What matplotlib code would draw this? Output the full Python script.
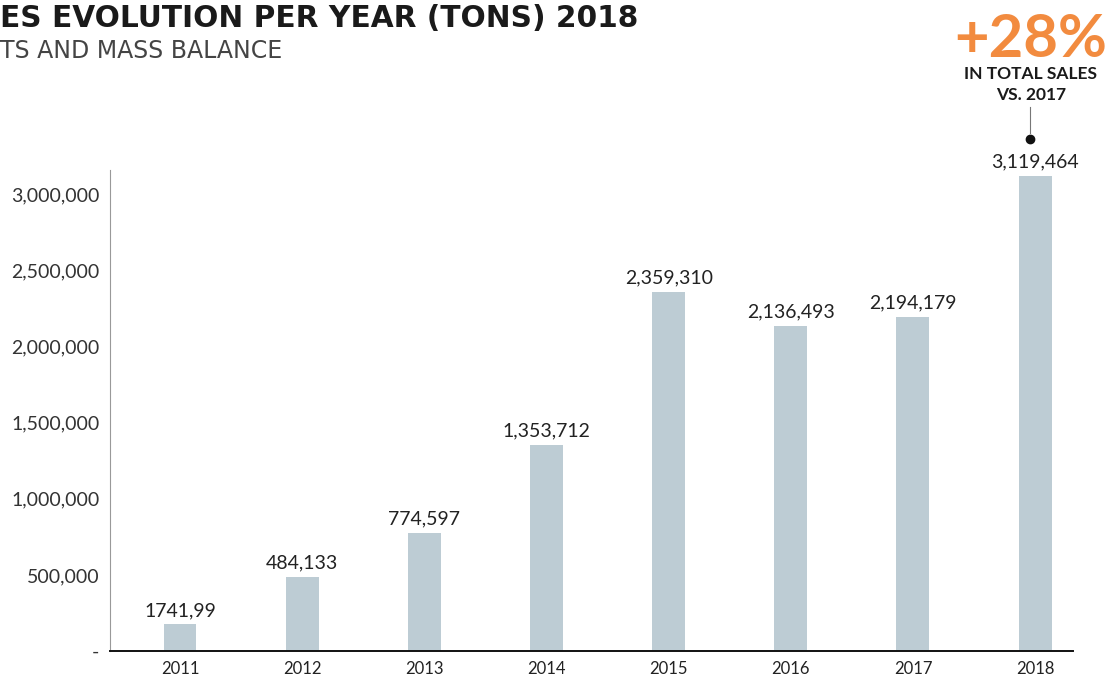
import matplotlib
matplotlib.use("Agg")
import matplotlib.pyplot as plt
from matplotlib.ticker import FixedLocator

years = ["2011", "2012", "2013", "2014", "2015", "2016", "2017", "2018"]
sales = [174199, 484133, 774597, 1353712, 2359310, 2136493, 2194179, 3119464]
value_labels = ["1741,99", "484,133", "774,597", "1,353,712", "2,359,310",
                "2,136,493", "2,194,179", "3,119,464"]
yticks = [0, 500000, 1000000, 1500000, 2000000, 2500000, 3000000]
ytick_labels = ["-", "500,000", "1,000,000", "1,500,000", "2,000,000", "2,500,000", "3,000,000"]

title = "ES EVOLUTION PER YEAR (TONS) 2018"
subtitle = "TS AND MASS BALANCE"
big_stat = "+28%"
stat_caption = ["IN TOTAL SALES", "VS. 2017"]

FONT = "Lato"
plt.rcParams["font.family"] = [FONT, "DejaVu Sans"]

W, H = 1107, 675
fig = plt.figure(figsize=(W / 100, H / 100), dpi=100)
ax = fig.add_axes([110 / W, 24 / H, 963 / W, 481 / H])

x = list(range(len(years)))
ax.bar(x, sales, width=0.27, color="#bdccd4", zorder=2)
ax.set_xlim(-0.573, 7.31)
ax.set_ylim(0, 3.16e6)

for xi, v, lab in zip(x, sales, value_labels):
    ax.annotate(lab, (xi, v), xytext=(0, 4), textcoords="offset points",
                ha="center", va="bottom", fontsize=14, color="#222222")

ax.set_xticks(x)
ax.set_xticklabels(years, fontsize=12, color="#222222")
ax.yaxis.set_major_locator(FixedLocator(yticks))
ax.set_yticklabels(ytick_labels, fontsize=14, color="#333333")
ax.tick_params(axis="both", length=0)
ax.tick_params(axis="x", pad=7)
ax.tick_params(axis="y", pad=7.5)

for s in ["top", "right"]:
    ax.spines[s].set_visible(False)
ax.spines["left"].set_color("#999999")
ax.spines["left"].set_linewidth(0.8)
ax.spines["bottom"].set_color("#111111")
ax.spines["bottom"].set_linewidth(1.4)

fig.text(0.0, 1 - 27 / H, title, fontsize=21.3, fontweight="bold", color="#1a1a1a",
         ha="left", va="baseline", family="DejaVu Sans")
fig.text(0.0, 1 - 58 / H, subtitle, fontsize=17, fontweight="normal", color="#444444",
         ha="left", va="baseline", family="DejaVu Sans")

fig.text(1031 / W, 1 - 57 / H, big_stat, fontsize=43, fontweight="bold", color="#f28b3f",
         ha="center", va="baseline")
fig.text(1031 / W, 1 - 79 / H, stat_caption[0], fontsize=12.5, fontweight="bold",
         color="#1a1a1a", ha="center", va="baseline")
fig.text(1031 / W, 1 - 100 / H, stat_caption[1], fontsize=12.5, fontweight="bold",
         color="#1a1a1a", ha="center", va="baseline")

# connector line and dot above the 2018 bar
line_x = 1030 / W
fig.add_artist(plt.Line2D([line_x, line_x], [1 - 107 / H, 1 - 133 / H],
                          color="#777777", linewidth=0.8))
fig.add_artist(plt.Line2D([line_x], [1 - 139 / H], marker="o", markersize=6,
                          color="#111111", linestyle="none"))

fig.savefig("out.png", dpi=100)
